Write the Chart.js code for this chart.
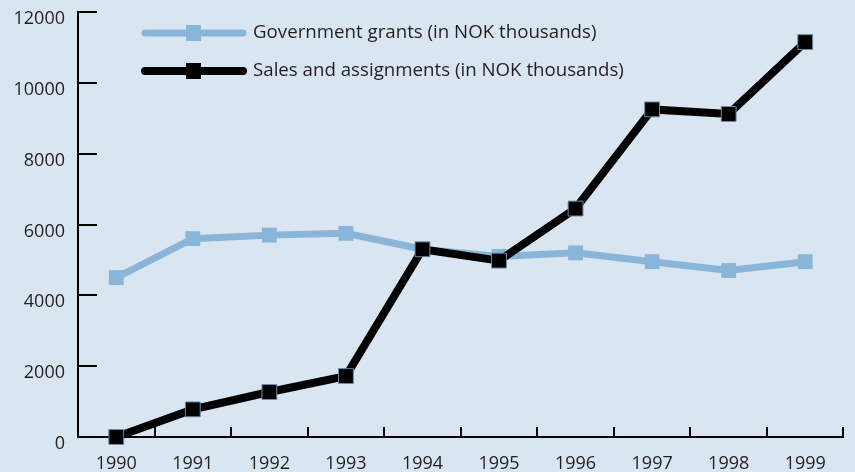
<!DOCTYPE html>
<html>
<head>
<meta charset="utf-8">
<script src="https://cdn.jsdelivr.net/npm/chart.js@4"></script>
<style>
  html, body { margin: 0; padding: 0; background: #d9e6f1; }
  #wrap { width: 855px; height: 472px; }
</style>
</head>
<body>
<div id="wrap"><canvas id="chart" width="855" height="472"></canvas></div>
<script>
// Data
const years = ['1990', '1991', '1992', '1993', '1994', '1995', '1996', '1997', '1998', '1999'];
const grants = [4500, 5600, 5700, 5750, 5300, 5100, 5200, 4950, 4700, 4950];
const sales = [0, 780, 1270, 1720, 5300, 4980, 6450, 9250, 9120, 11150];
const yTicks = [0, 2000, 4000, 6000, 8000, 10000, 12000];

const colors = {
    bg: '#d9e6f1',
    grants: '#89b5d8',
    sales: '#000000',
    text: '#231f20'
};
const fontFamily = '"Open Sans", sans-serif';
const fontSize = 18;

// inward tick marks on both axes
const axisTicks = {
    id: 'axisTicks',
    beforeDatasetsDraw(chart) {
        const { ctx, chartArea, scales } = chart;
        ctx.save();
        ctx.strokeStyle = '#000';
        ctx.lineWidth = 2;
        ctx.beginPath();
        yTicks.forEach(v => {
            if (v === 0) return;
            const y = Math.round(scales.y.getPixelForValue(v));
            ctx.moveTo(chartArea.left, y);
            ctx.lineTo(chartArea.left + 19, y);
        });
        for (let i = 0; i < years.length; i++) {
            const x = i < years.length - 1
                ? (scales.x.getPixelForValue(i) + scales.x.getPixelForValue(i + 1)) / 2
                : chartArea.right - 1;
            ctx.moveTo(Math.round(x), chartArea.bottom);
            ctx.lineTo(Math.round(x), chartArea.bottom - 10);
        }
        ctx.stroke();
        ctx.restore();
    }
};

// legend with line + square marker, drawn inside the plot
const lineLegend = {
    id: 'lineLegend',
    afterDraw(chart) {
        const { ctx } = chart;
        ctx.save();
        chart.data.datasets.forEach((ds, i) => {
            const y = 33 + i * 38;
            ctx.strokeStyle = ds.borderColor;
            ctx.lineWidth = ds.borderWidth;
            ctx.lineCap = 'round';
            ctx.beginPath();
            ctx.moveTo(145, y);
            ctx.lineTo(243, y);
            ctx.stroke();
            ctx.fillStyle = ds.borderColor;
            ctx.fillRect(186, y - 8, 15, 16);
            ctx.fillStyle = colors.text;
            ctx.font = '18.7px ' + fontFamily;
            ctx.textBaseline = 'middle';
            ctx.fillText(ds.label, 253, y);
        });
        ctx.restore();
    }
};

const ctx = document.getElementById('chart').getContext('2d');
new Chart(ctx, {
    type: 'line',
    data: {
        labels: years,
        datasets: [
            {
                label: 'Government grants (in NOK thousands)',
                data: grants,
                borderColor: colors.grants,
                backgroundColor: colors.grants,
                borderWidth: 7,
                pointStyle: 'rect',
                pointRadius: 10.5,
                pointBorderWidth: 0,
                clip: false,
                order: 1
            },
            {
                label: 'Sales and assignments (in NOK thousands)',
                data: sales,
                borderColor: colors.sales,
                backgroundColor: colors.sales,
                borderWidth: 8,
                pointStyle: 'rect',
                pointRadius: 10.5,
                pointBorderWidth: 1,
                pointBorderColor: '#6f8aa0',
                clip: false,
                order: 0
            }
        ]
    },
    options: {
        responsive: false,
        animation: false,
        layout: { padding: { top: 12, right: 6, left: 0, bottom: 0 } },
        plugins: {
            legend: { display: false },
            tooltip: { enabled: false }
        },
        scales: {
            x: {
                offset: true,
                grid: { display: false, drawTicks: false },
                border: { display: true, color: '#000', width: 2 },
                ticks: {
                    color: colors.text,
                    padding: 16,
                    maxRotation: 0,
                    font: { family: fontFamily, size: fontSize }
                },
                afterFit(scale) {
                    scale.height = 35;
                    scale.paddingLeft = 0;
                    scale.paddingRight = 0;
                }
            },
            y: {
                min: 0,
                max: 12000,
                grid: { display: false, drawTicks: false },
                border: { display: true, color: '#000', width: 2 },
                ticks: {
                    stepSize: 2000,
                    color: colors.text,
                    padding: 13,
                    labelOffset: 7,
                    font: { family: fontFamily, size: fontSize },
                    callback: value => String(value)
                },
                afterFit(scale) {
                    scale.width = 78;
                    scale.paddingTop = 0;
                    scale.paddingBottom = 0;
                }
            }
        }
    },
    plugins: [axisTicks, lineLegend]
});
</script>
</body>
</html>
